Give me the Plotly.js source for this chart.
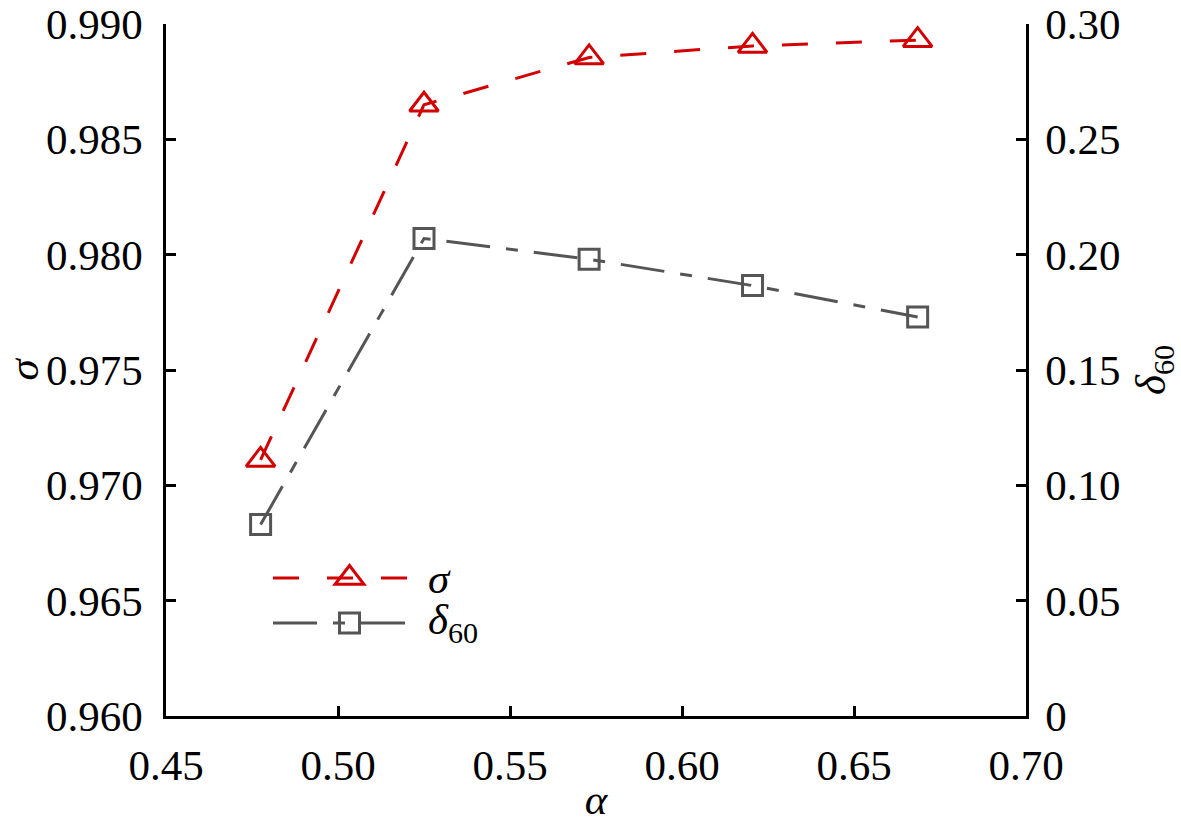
<!DOCTYPE html>
<html>
<head>
<meta charset="utf-8">
<script src="https://cdn.plot.ly/plotly-3.0.1.min.js"></script>
<style>
  html, body { margin: 0; padding: 0; background: #fff; font-family: 'Times New Roman'; }
  #chart { width: 1181px; height: 823px; }
  #chart .modebar-container { display: none !important; }
  #chart svg text, #chart svg tspan { font-family: 'Times New Roman', 'Liberation Serif', serif !important; }
</style>
</head>
<body>
<div id="chart"></div>
<script>
// 数据
const alpha = [0.4775, 0.525, 0.573, 0.6205, 0.6685];
const sigma = [0.9711, 0.9865, 0.98855, 0.98905, 0.9893];
const delta60 = [0.083, 0.207, 0.198, 0.1866, 0.173];

const xTicks = [0.45, 0.50, 0.55, 0.60, 0.65, 0.70];
const sigmaTicks = [0.960, 0.965, 0.970, 0.975, 0.980, 0.985, 0.990];
const deltaTicks = [0, 0.05, 0.10, 0.15, 0.20, 0.25, 0.30];
const deltaTickText = ['0', '0.05', '0.10', '0.15', '0.20', '0.25', '0.30'];

const RED = '#d20000';
const GRAY = '#555555';
const serifFont = { family: 'Times New Roman', size: 43, color: '#000' };

const traces = [
    {
        x: alpha,
        y: sigma,
        name: 'σ',
        type: 'scatter',
        mode: 'lines+markers',
        yaxis: 'y',
        line: { color: RED, width: 3, dash: '26px,28px' },
        marker: { symbol: 'triangle-up-open', size: 25, color: RED, line: { width: 3, color: RED } },
        cliponaxis: false
    },
    {
        x: alpha,
        y: delta60,
        name: 'δ60',
        type: 'scatter',
        mode: 'lines+markers',
        yaxis: 'y2',
        line: { color: GRAY, width: 3, dash: '44px,16px,12px,16px' },
        marker: { symbol: 'square-open', size: 20, color: GRAY, line: { width: 3, color: GRAY } },
        cliponaxis: false
    }
];

const axisCommon = {
    showline: true,
    linecolor: '#000',
    linewidth: 2.5,
    ticks: 'inside',
    ticklen: 10,
    tickwidth: 2.5,
    tickcolor: '#000',
    showgrid: false,
    zeroline: false,
    tickfont: Object.assign({}, serifFont)
};

// 图例：自己画长线段 + 中间的标记（绘图区 166..1026 x 24..716 像素）
const px = v => (v - 166) / 860;
const py = v => (716 - v) / 692;
const legY1 = py(578);
const legY2 = py(623);
const legX0 = px(273);
const legX1 = px(409);
const legXc = px(349.5);
const legXt = px(426);

const shapes = [
    { type: 'line', xref: 'paper', yref: 'paper', x0: legX0, x1: legX1, y0: legY1, y1: legY1,
      line: { color: RED, width: 3, dash: '26px,28px' } },
    { type: 'path', xref: 'paper', yref: 'paper', xsizemode: 'pixel', ysizemode: 'pixel',
      xanchor: legXc, yanchor: legY1,
      path: 'M-14.4,-6.25 H14.4 L0,12.5 Z',
      line: { color: RED, width: 3 }, fillcolor: 'rgba(0,0,0,0)' },
    { type: 'line', xref: 'paper', yref: 'paper', x0: legX0, x1: legX1, y0: legY2, y1: legY2,
      line: { color: GRAY, width: 3, dash: '44px,16px,12px,16px' } },
    { type: 'path', xref: 'paper', yref: 'paper', xsizemode: 'pixel', ysizemode: 'pixel',
      xanchor: legXc, yanchor: legY2,
      path: 'M-10,-10 H10 V10 H-10 Z',
      line: { color: GRAY, width: 3 }, fillcolor: 'rgba(0,0,0,0)' }
];

const annotations = [
    { xref: 'paper', yref: 'paper', x: legXt, y: legY1, xanchor: 'left', yanchor: 'middle',
      text: '<i>σ</i>', showarrow: false, font: Object.assign({}, serifFont) },
    { xref: 'paper', yref: 'paper', x: legXt, y: legY2, xanchor: 'left', yanchor: 'middle',
      text: '<i>δ</i><sub>60</sub>', showarrow: false, font: Object.assign({}, serifFont) }
];

const layout = {
    width: 1181,
    height: 823,
    margin: { l: 166, r: 155, t: 24, b: 107, pad: 0 },
    paper_bgcolor: '#fff',
    plot_bgcolor: '#fff',
    showlegend: false,
    font: { family: 'Times New Roman' },
    xaxis: Object.assign({}, axisCommon, {
        range: [0.45, 0.70],
        tickvals: xTicks,
        tickformat: '.2f',
        ticklabelstandoff: 10,
        title: { text: '<i>α</i>', font: Object.assign({}, serifFont), standoff: 20 }
    }),
    yaxis: Object.assign({}, axisCommon, {
        range: [0.960, 0.990],
        tickvals: sigmaTicks,
        tickformat: '.3f',
        ticklabelstandoff: 12,
        title: { text: '<i>σ</i>', font: Object.assign({}, serifFont), standoff: 34 }
    }),
    yaxis2: Object.assign({}, axisCommon, {
        overlaying: 'y',
        side: 'right',
        range: [0, 0.30],
        tickvals: deltaTicks,
        ticktext: deltaTickText,
        ticklabelstandoff: 8,
        title: { text: '<i>δ</i><sub>60</sub>', font: Object.assign({}, serifFont), standoff: 18 }
    }),
    shapes: shapes,
    annotations: annotations
};

Plotly.newPlot('chart', traces, layout);
</script>
</body>
</html>
